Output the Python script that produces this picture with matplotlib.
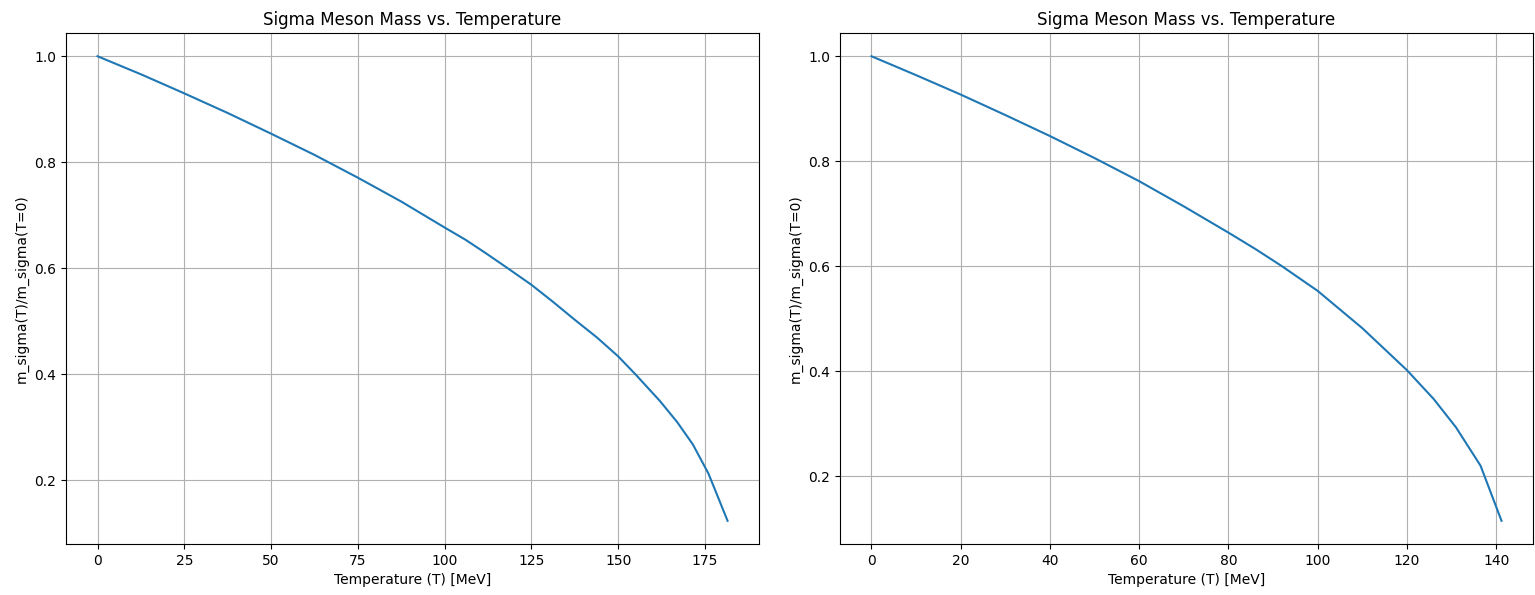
import matplotlib
matplotlib.use("Agg")
import matplotlib.pyplot as plt

# Left panel data
T_left = [0, 12.5, 25, 37.5, 50, 62.5, 75, 87.5, 100, 106, 112, 118, 125, 131, 137.5, 144, 150, 155, 162, 167, 171.5, 176, 181.5]
m_left = [1.0, 0.966, 0.930, 0.893, 0.854, 0.814, 0.771, 0.726, 0.677, 0.654, 0.628, 0.601, 0.569, 0.538, 0.503, 0.469, 0.434, 0.400, 0.350, 0.310, 0.268, 0.213, 0.124]

# Right panel data
T_right = [0, 10, 20, 30, 40, 50, 60, 70, 80, 86, 92, 100, 110, 120, 126, 131, 136.5, 141.2]
m_right = [1.0, 0.964, 0.927, 0.888, 0.848, 0.806, 0.762, 0.714, 0.664, 0.633, 0.600, 0.553, 0.482, 0.402, 0.347, 0.293, 0.220, 0.115]

title = "Sigma Meson Mass vs. Temperature"
xlabel = "Temperature (T) [MeV]"
ylabel = "m_sigma(T)/m_sigma(T=0)"

fig = plt.figure(figsize=(15.35, 5.95), dpi=100)
ax1 = fig.add_axes([0.043, 0.0857, 0.4515, 0.8588])
ax2 = fig.add_axes([0.5472, 0.0857, 0.4515, 0.8588])

for ax, T, m in [(ax1, T_left, m_left), (ax2, T_right, m_right)]:
    ax.plot(T, m)
    ax.set_title(title)
    ax.set_xlabel(xlabel)
    ax.set_ylabel(ylabel)
    ax.grid(True)

ax1.set_xticks([0, 25, 50, 75, 100, 125, 150, 175])
ax2.set_xticks([0, 20, 40, 60, 80, 100, 120, 140])
for ax in (ax1, ax2):
    ax.set_yticks([0.2, 0.4, 0.6, 0.8, 1.0])

fig.savefig("out.png", dpi=100)
